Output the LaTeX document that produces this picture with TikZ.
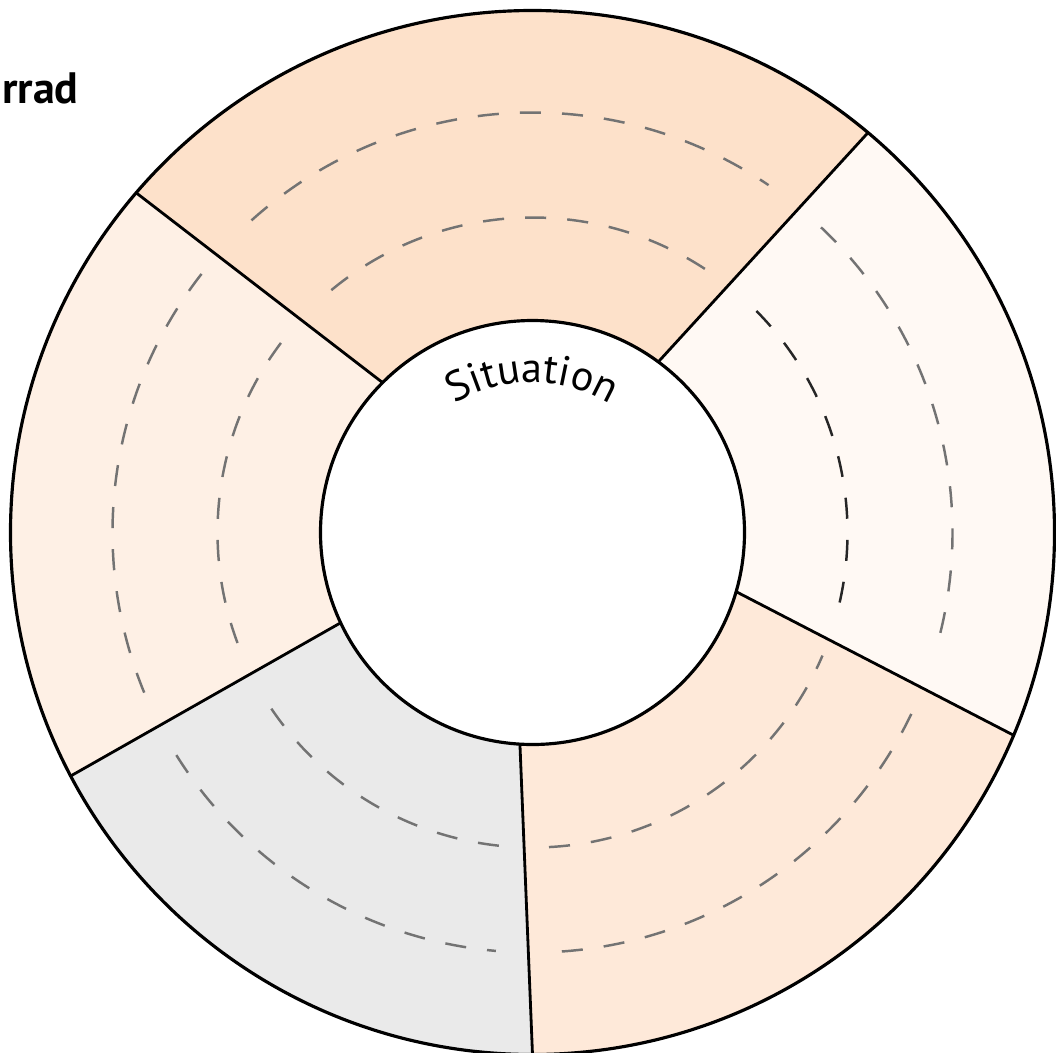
\documentclass[tikz,border=0pt]{standalone}
\usepackage{fontspec}
\setmainfont{PT Sans}
\usetikzlibrary{decorations.text}
\definecolor{segtop}{RGB}{253,225,202}
\definecolor{segleft}{RGB}{254,240,229}
\definecolor{segright}{RGB}{255,249,244}
\definecolor{segbottom}{RGB}{254,233,217}
\definecolor{seggrey}{RGB}{234,234,234}
\definecolor{guidegrey}{RGB}{115,115,115}
\begin{document}
\begin{tikzpicture}[x=0.1mm,y=0.1mm,
		rim/.style={line width=0.9pt},
		spoke/.style={line width=0.8pt},
		guide/.style={draw=guidegrey,line width=0.7pt,dash pattern=on 6pt off 6pt},
		guidedark/.style={guide,draw=black!85}]
	\useasboundingbox (-532.5,-519.5) rectangle (523.5,532.5);
	% end points of the five spokes (inner / outer)
	\foreach \i/\ia/\oa in {1/135/139.4,2/53.6/50,3/-16.2/-22.85,4/266.6/270,5/205.2/207.8}{
		\coordinate (in\i) at (\ia:212);
		\coordinate (out\i) at (\oa:522);
	}
	% segments: outer from/to, inner from/to
	\foreach \oa/\ob/\ia/\ib/\col in {-22.85/50/-16.2/53.6/segright,50/139.4/53.6/135/segtop,
		139.4/207.8/135/205.2/segleft,207.8/270/205.2/266.6/seggrey,270/337.15/266.6/343.8/segbottom}
	\fill[\col] (\ia:212) -- (\oa:522) arc[start angle=\oa,end angle=\ob,radius=522]
		-- (\ib:212) arc[start angle=\ib,end angle=\ia,radius=212] -- cycle;
	% dashed rings
	\foreach \a/\b/\r in {132/55.8/420,129.7/56.7/315,142/203.5/420,143/202.7/315,
		212/265/420,214/264.5/315,274/335/420,273/337/315,46.6/-14/420}
	\draw[guide] (\a:\r) arc[start angle=\a,end angle=\b,radius=\r];
	\draw[guidedark] (44.7:315) arc[start angle=44.7,end angle=-14,radius=315];
	\foreach \i in {1,...,5}
	\draw[spoke] (in\i) -- (out\i);
	\draw[rim] (0,0) circle[radius=522];
	\draw[rim,fill=white] (0,0) circle[radius=212];
	\path[decorate,decoration={text along path,text align=center,
		text={|\fontsize{12}{14}\selectfont|Situation}}] (160:150) arc[start angle=160,end angle=20,radius=150];
	\node[font=\bfseries\fontsize{12.5}{15}\selectfont,anchor=base west,inner sep=0pt] (wheel) at (-531,429.5) {rrad};
\end{tikzpicture}
\end{document}
